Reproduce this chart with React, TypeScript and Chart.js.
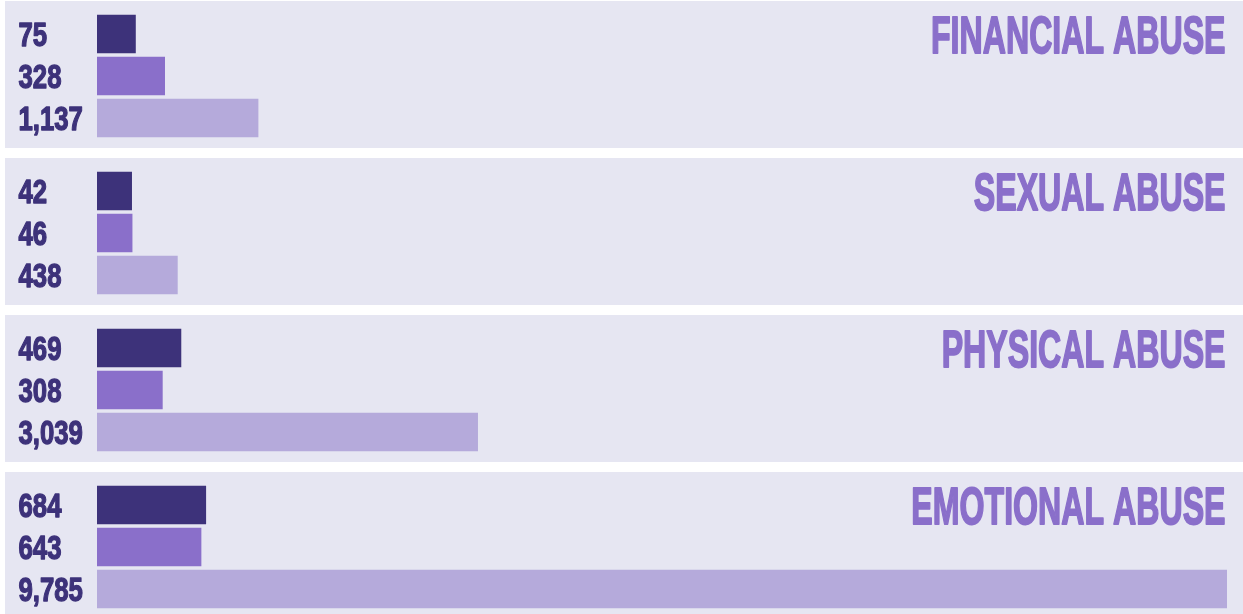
import React, { useEffect, useRef } from 'react';
import { Chart, registerables } from 'chart.js';

Chart.register(...registerables);

// ---- data ----
const categories = ['FINANCIAL ABUSE', 'SEXUAL ABUSE', 'PHYSICAL ABUSE', 'EMOTIONAL ABUSE'];
const seriesA = [75, 42, 469, 684];
const seriesB = [328, 46, 308, 643];
const seriesC = [1137, 438, 3039, 9785];
const axisMin = -261;
const axisMax = 9527;

// ---- styles ----
const barColors = ['#3d327a', '#8a6fca', '#b5aadb'];
const panelBg = '#e6e6f2';
const labelColor = '#3d327a';
const titleColor = '#8a6fca';
const fontFamily = "'Liberation Sans', Arial, sans-serif";

const W = 1238;
const H = 147;

// draws condensed value labels (at the category scale's positions) and the panel title
const textPlugin = {
  id: 'panelText',
  afterDraw(chart: any) {
    const opts = chart.options.plugins.panelText || {};
    const { ctx, chartArea } = chart;
    const yScale = chart.scales.y;
    const labels: string[] = chart.data.labels;
    ctx.save();
    ctx.fillStyle = labelColor;
    ctx.strokeStyle = labelColor;
    ctx.lineJoin = 'round';
    ctx.lineWidth = 1.3;
    ctx.font = `bold 33px ${fontFamily}`;
    ctx.textAlign = 'left';
    ctx.textBaseline = 'alphabetic';
    labels.forEach((lab, i) => {
      const y = yScale.getPixelForValue(i);
      ctx.save();
      ctx.translate(13.5, y + 11.5);
      ctx.scale(0.78, 1);
      ctx.fillText(lab, 0, 0);
      ctx.strokeText(lab, 0, 0);
      ctx.restore();
    });
    if (opts.text) {
      ctx.font = `bold 51px ${fontFamily}`;
      ctx.fillStyle = titleColor;
      ctx.strokeStyle = titleColor;
      ctx.lineWidth = 1.8;
      ctx.textAlign = 'right';
      ctx.translate(chartArea.right - 1.5, 52);
      ctx.scale(0.63, 1);
      ctx.fillText(opts.text, 0, 0);
      ctx.strokeText(opts.text, 0, 0);
    }
    ctx.restore();
  },
};

function Panel({ index }: { index: number }) {
  const ref = useRef<HTMLCanvasElement | null>(null);
  useEffect(() => {
    if (!ref.current) return;
    const values = [seriesA[index], seriesB[index], seriesC[index]];
    const chart = new Chart(ref.current, {
      type: 'bar',
      data: {
        labels: values.map((v) => v.toLocaleString('en-US')),
        datasets: [
          {
            data: values,
            backgroundColor: barColors,
            base: axisMin,
            barPercentage: 0.92,
            categoryPercentage: 1,
          } as any,
        ],
      },
      options: {
        indexAxis: 'y',
        responsive: false,
        animation: false,
        layout: { padding: { left: 92, right: 16, top: 12, bottom: 9 } },
        scales: {
          x: { display: false, min: axisMin, max: axisMax },
          y: { display: false },
        },
        plugins: {
          legend: { display: false },
          tooltip: { enabled: false },
          panelText: { text: categories[index] },
        } as any,
      },
      plugins: [textPlugin],
    });
    return () => chart.destroy();
  }, [index]);
  return (
    <div style={{ position: 'absolute', left: 0, top: index * 157, width: W, height: H, background: panelBg }}>
      <canvas ref={ref} width={W} height={H} style={{ display: 'block' }} />
    </div>
  );
}

export default function App() {
  return (
    <div style={{ position: 'fixed', left: 0, top: 0, width: '100vw', height: '100vh', overflow: 'hidden', background: '#ffffff' }}>
      <div style={{ position: 'absolute', left: 5, top: 1, width: W, height: 4 * 157 }}>
        {categories.map((_, i) => (
          <Panel key={i} index={i} />
        ))}
      </div>
    </div>
  );
}
